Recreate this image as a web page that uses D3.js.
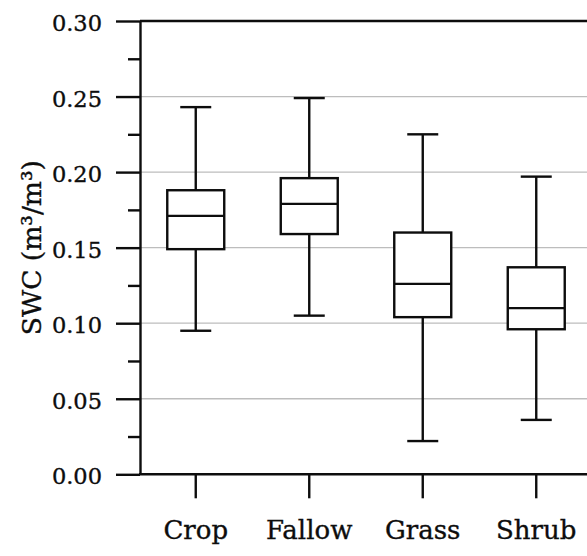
<!DOCTYPE html>
<html>
<head>
<meta charset="utf-8">
<script src="https://cdn.jsdelivr.net/npm/d3@7"></script>
<style>
  html, body { margin: 0; padding: 0; background: #fff; }
  svg { display: block; }
</style>
</head>
<body>
<svg id="chart" width="587" height="556"></svg>
<script>
const categories = ["Crop", "Fallow", "Grass", "Shrub"];
const whiskerLow  = [0.095, 0.105, 0.022, 0.036];
const q1          = [0.149, 0.159, 0.104, 0.096];
const median      = [0.171, 0.179, 0.126, 0.110];
const q3          = [0.188, 0.196, 0.160, 0.137];
const whiskerHigh = [0.243, 0.249, 0.225, 0.197];
const yMajorTicks = [0.00, 0.05, 0.10, 0.15, 0.20, 0.25, 0.30];
const yMinorTicks = [0.025, 0.075, 0.125, 0.175, 0.225, 0.275];
const yTitle = "SWC (m³/m³)";

const svg = d3.select("#chart");
const plotLeft = 140, plotRight = 594, plotTop = 21, plotBottom = 474.3;
const font = "'DejaVu Serif', serif";
const ink = "#0d0d0d";
const lw = 2.4;

const y = d3.scaleLinear().domain([0, 0.30]).range([plotBottom, plotTop]);
const x = d3.scaleBand().domain(categories).range([139, 593]);

const boxes = categories.map((c, i) => ({
  cat: c, lo: whiskerLow[i], q1: q1[i], med: median[i], q3: q3[i], hi: whiskerHigh[i]
}));

// gridlines
svg.append("g").selectAll("line").data(yMajorTicks.filter(v => v > 0 && v < 0.30)).join("line")
  .attr("x1", plotLeft).attr("x2", plotRight)
  .attr("y1", d => y(d)).attr("y2", d => y(d))
  .attr("stroke", "#bdbdbd").attr("stroke-width", 1.3);

// top border line at 0.30
svg.append("line")
  .attr("x1", plotLeft).attr("x2", plotRight)
  .attr("y1", y(0.30)).attr("y2", y(0.30))
  .attr("stroke", ink).attr("stroke-width", lw);

// y axis major
const yAxis = svg.append("g").attr("transform", `translate(${plotLeft},0)`)
  .call(d3.axisLeft(y).tickValues(yMajorTicks).tickFormat(d3.format(".2f")).tickSize(24).tickSizeOuter(0).tickPadding(14));
yAxis.select(".domain").attr("stroke", ink).attr("stroke-width", lw);
yAxis.selectAll(".tick line").attr("stroke", ink).attr("stroke-width", lw);
yAxis.selectAll(".tick text")
  .attr("font-family", font).attr("font-size", 22.5).attr("fill", ink)
  .attr("stroke", ink).attr("stroke-width", 0.35)
  .attr("dy", "0.42em");

// y axis minor
const yMinor = svg.append("g").attr("transform", `translate(${plotLeft},0)`)
  .call(d3.axisLeft(y).tickValues(yMinorTicks).tickFormat("").tickSize(12).tickSizeOuter(0));
yMinor.select(".domain").remove();
yMinor.selectAll(".tick line").attr("stroke", ink).attr("stroke-width", lw);

// x axis
const xAxis = svg.append("g").attr("transform", `translate(0,${plotBottom})`)
  .call(d3.axisBottom(x).tickSize(24).tickSizeOuter(0).tickPadding(22));
xAxis.select(".domain").remove();
xAxis.selectAll(".tick line").attr("stroke", ink).attr("stroke-width", lw);
xAxis.selectAll(".tick text")
  .attr("font-family", font).attr("font-size", 26).attr("fill", ink)
  .attr("stroke", ink).attr("stroke-width", 0.35)
  .attr("dy", "0.71em");
svg.append("line")
  .attr("x1", plotLeft - 1).attr("x2", plotRight)
  .attr("y1", plotBottom).attr("y2", plotBottom)
  .attr("stroke", ink).attr("stroke-width", lw);

// boxes
const bw = x.step() * 0.502;
const cw = 31;
const g = svg.append("g").selectAll("g").data(boxes).join("g")
  .attr("transform", d => `translate(${x(d.cat) + x.bandwidth() / 2},0)`);
function st(sel) { return sel.attr("stroke", ink).attr("stroke-width", lw); }
st(g.append("line").attr("x1", 0).attr("x2", 0).attr("y1", d => y(d.hi)).attr("y2", d => y(d.q3)));
st(g.append("line").attr("x1", 0).attr("x2", 0).attr("y1", d => y(d.q1)).attr("y2", d => y(d.lo)));
st(g.append("line").attr("x1", -cw / 2).attr("x2", cw / 2).attr("y1", d => y(d.hi)).attr("y2", d => y(d.hi)));
st(g.append("line").attr("x1", -cw / 2).attr("x2", cw / 2).attr("y1", d => y(d.lo)).attr("y2", d => y(d.lo)));
st(g.append("rect").attr("x", -bw / 2).attr("width", bw)
  .attr("y", d => y(d.q3)).attr("height", d => y(d.q1) - y(d.q3)).attr("fill", "#fff"));
st(g.append("line").attr("x1", -bw / 2).attr("x2", bw / 2).attr("y1", d => y(d.med)).attr("y2", d => y(d.med)));

// y title
svg.append("text")
  .attr("transform", `translate(41,${(plotTop + plotBottom) / 2}) rotate(-90)`)
  .attr("text-anchor", "middle")
  .attr("font-family", font).attr("font-size", 26.5).attr("fill", ink)
  .attr("stroke", ink).attr("stroke-width", 0.35)
  .text(yTitle);
</script>
</body>
</html>
